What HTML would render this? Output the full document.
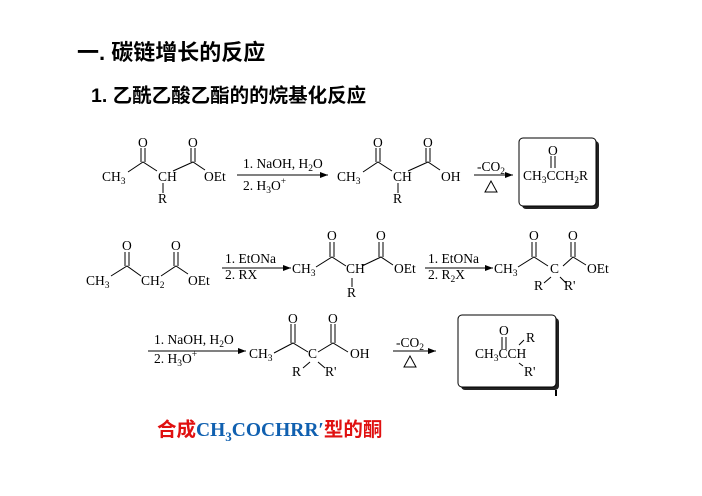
<!DOCTYPE html>
<html><head><meta charset="utf-8"><style>
html,body{margin:0;padding:0;background:#fff;}
svg{display:block;}
.c{font-family:"Liberation Serif",serif;font-size:13.5px;fill:#000;}
.s{font-size:9.5px;}
</style></head><body>
<svg width="702" height="496" viewBox="0 0 702 496" xmlns="http://www.w3.org/2000/svg">
<defs><marker id="ah" markerWidth="8" markerHeight="6" refX="8" refY="3" orient="auto"><path d="M0,0 L8,3 L0,6 Z" fill="#000"/></marker></defs>
<text x="77" y="60" font-family="'Liberation Sans','Noto Sans CJK SC',sans-serif" font-size="22" font-weight="bold">一. 碳链增长的反应</text>
<text x="91" y="102" font-family="'Liberation Sans','Noto Sans CJK SC',sans-serif" font-size="19.5" font-weight="bold">1. 乙酰乙酸乙酯的的烷基化反应</text>

<!-- boxes -->
<rect x="522" y="141" width="77" height="68" rx="4" fill="#222"/>
<rect x="519" y="138" width="77" height="68" rx="4" fill="#fff" stroke="#000"/>
<rect x="461" y="318" width="98" height="72" rx="4" fill="#222"/>
<rect x="458" y="315" width="98" height="72" rx="4" fill="#fff" stroke="#000"/>
<path d="M556,390 V396" stroke="#000" stroke-width="2"/>

<g stroke="#000" stroke-width="1" fill="none">
<path d="M128,172 L143,162 L157,171"/><path d="M141,148 V162 M145,148 V162"/>
<path d="M173,171 L193,162 L205,170"/><path d="M191,148 V162 M195,148 V162"/>
<path d="M163,183 V193"/>
<line x1="237" y1="175" x2="328" y2="175" marker-end="url(#ah)"/>
<path d="M363,172 L378,162 L392,171"/><path d="M376,148 V162 M380,148 V162"/>
<path d="M408,171 L428,162 L440,170"/><path d="M426,148 V162 M430,148 V162"/>
<path d="M398,183 V193"/>
<line x1="474" y1="175" x2="513" y2="175" marker-end="url(#ah)"/>
<path d="M485,192 L491,181 L497,192 Z"/>
<path d="M551,156 V168 M555,156 V168"/>
<path d="M111,276 L127,266 L141,276"/><path d="M125,252 V266 M129,252 V266"/>
<path d="M161,276 L176,266 L188,274"/><path d="M174,252 V266 M178,252 V266"/>
<line x1="222" y1="268" x2="291" y2="268" marker-end="url(#ah)"/>
<path d="M316,267 L332,257 L346,266"/><path d="M330,242 V257 M334,242 V257"/>
<path d="M362,266 L381,257 L393,265"/><path d="M379,242 V257 M383,242 V257"/>
<path d="M352,278 V287"/>
<line x1="425" y1="268" x2="493" y2="268" marker-end="url(#ah)"/>
<path d="M518,267 L534,257 L548,266"/><path d="M532,242 V257 M536,242 V257"/>
<path d="M563,266 L573,257 L586,265"/><path d="M571,242 V257 M575,242 V257"/>
<path d="M551,277 L544,283 M560,277 L566,283"/>
<line x1="148" y1="351" x2="246" y2="351" marker-end="url(#ah)"/>
<path d="M274,353 L293,343 L308,352"/><path d="M291,324 V343 M295,324 V343"/>
<path d="M318,352 L333,343 L348,352"/><path d="M331,324 V343 M335,324 V343"/>
<path d="M310,362 L303,368 M318,362 L325,368"/>
<line x1="393" y1="351" x2="436" y2="351" marker-end="url(#ah)"/>
<path d="M404,367 L410,356 L416,367 Z"/>
<path d="M502,337 V349 M506,337 V349"/>
<path d="M519,345 L524,340 M519,363 L523,366"/>
</g>
<g class="c">
<text x="102" y="181">CH<tspan class="s" dy="3">3</tspan></text>
<text x="138" y="147">O</text><text x="188" y="147">O</text>
<text x="158" y="181">CH</text><text x="204" y="181">OEt</text>
<text x="158" y="203">R</text>
<text x="243" y="168">1. NaOH, H<tspan class="s" dy="3">2</tspan><tspan dy="-3">O</tspan></text>
<text x="243" y="190">2. H<tspan class="s" dy="3">3</tspan><tspan dy="-3">O</tspan><tspan class="s" dy="-6">+</tspan></text>
<text x="337" y="181">CH<tspan class="s" dy="3">3</tspan></text>
<text x="373" y="147">O</text><text x="423" y="147">O</text>
<text x="393" y="181">CH</text><text x="441" y="181">OH</text>
<text x="393" y="203">R</text>
<text x="477" y="171">-CO<tspan class="s" dy="3">2</tspan></text>
<text x="548" y="155">O</text>
<text x="523" y="180">CH<tspan class="s" dy="3">3</tspan><tspan dy="-3">CCH</tspan><tspan class="s" dy="3">2</tspan><tspan dy="-3">R</tspan></text>

<text x="86" y="285">CH<tspan class="s" dy="3">3</tspan></text>
<text x="122" y="250">O</text><text x="171" y="250">O</text>
<text x="141" y="285">CH<tspan class="s" dy="3">2</tspan></text>
<text x="188" y="285">OEt</text>
<text x="225" y="263">1. EtONa</text><text x="225" y="279">2. RX</text>
<text x="292" y="273">CH<tspan class="s" dy="3">3</tspan></text>
<text x="327" y="240">O</text><text x="376" y="240">O</text>
<text x="346" y="273">CH</text><text x="394" y="273">OEt</text>
<text x="347" y="297">R</text>
<text x="428" y="263">1. EtONa</text><text x="428" y="279">2. R<tspan class="s" dy="3">2</tspan><tspan dy="-3">X</tspan></text>
<text x="494" y="273">CH<tspan class="s" dy="3">3</tspan></text>
<text x="529" y="240">O</text><text x="568" y="240">O</text>
<text x="550" y="273">C</text><text x="587" y="273">OEt</text>
<text x="534" y="290">R</text><text x="564" y="290">R'</text>

<text x="154" y="344">1. NaOH, H<tspan class="s" dy="3">2</tspan><tspan dy="-3">O</tspan></text>
<text x="154" y="363">2. H<tspan class="s" dy="3">3</tspan><tspan dy="-3">O</tspan><tspan class="s" dy="-6">+</tspan></text>
<text x="249" y="358">CH<tspan class="s" dy="3">3</tspan></text>
<text x="288" y="323">O</text><text x="328" y="323">O</text>
<text x="308" y="358">C</text><text x="350" y="358">OH</text>
<text x="292" y="376">R</text><text x="325" y="376">R'</text>
<text x="396" y="347">-CO<tspan class="s" dy="3">2</tspan></text>
<text x="499" y="335">O</text>
<text x="475" y="358">CH<tspan class="s" dy="3">3</tspan><tspan dy="-3">CCH</tspan></text>
<text x="526" y="342">R</text><text x="524" y="376">R'</text>
</g>
<text x="157" y="436" font-size="19.5" font-weight="bold" fill="#e01010" font-family="'Liberation Sans','Noto Sans CJK SC',sans-serif">合成<tspan fill="#1060b0" font-family="'Liberation Serif',serif">CH<tspan font-size="13" dy="5">3</tspan><tspan dy="-5">COCHRR′</tspan></tspan>型的酮</text>
</svg>
</body></html>
